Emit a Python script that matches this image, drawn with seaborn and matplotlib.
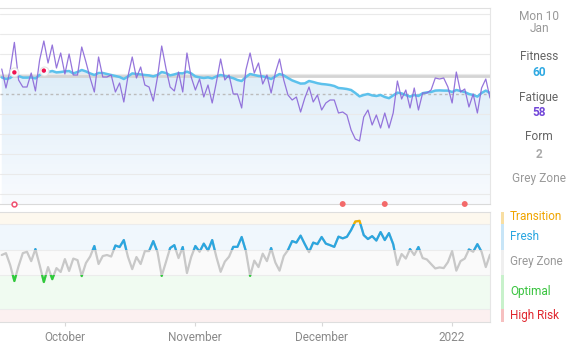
import numpy as np
import pandas as pd
import seaborn as sns
import matplotlib.pyplot as plt
import matplotlib.dates as mdates
from matplotlib.patches import Rectangle
from matplotlib.colors import LinearSegmentedColormap

# daily values from 16 Sep 2021 to 10 Jan 2022
start_day = "2021-09-16"
fitness = [68.3, 67.5, 68.0, 69.8, 69.0, 68.2, 68.2, 68.3, 67.8, 69.5,
           70.7, 71.0, 71.5, 70.8, 71.0, 71.3, 71.5, 70.3, 71.0, 72.0,
           71.3, 70.3, 69.5, 70.5, 70.5, 70.0, 69.5, 69.0, 68.5, 67.5,
           68.8, 70.3, 70.0, 69.8, 69.5, 69.3, 68.8, 69.5, 71.0, 70.5,
           69.3, 69.8, 70.4, 70.3, 71.2, 70.3, 68.8, 68.3, 68.0, 68.3,
           67.8, 68.8, 69.5, 69.0, 68.5, 67.9, 67.0, 66.5, 68.5, 70.0,
           69.5, 69.0, 68.8, 68.3, 67.5, 68.8, 70.0, 69.3, 68.0, 66.8,
           66.0, 65.2, 65.3, 66.5, 66.0, 65.4, 65.0, 64.8, 64.5, 64.0,
           63.0, 62.8, 62.5, 62.0, 60.5, 58.8, 59.5, 60.0, 59.3, 59.0,
           59.5, 58.5, 57.9, 59.3, 60.7, 60.3, 59.5, 58.7, 59.5, 59.0,
           60.4, 60.8, 61.0, 61.7, 61.8, 61.7, 61.7, 61.0, 62.0, 61.5,
           61.0, 60.0, 59.5, 58.7, 60.5, 61.7, 60.5]
fatigue = [72.5, 63.0, 72.0, 85.8, 67.0, 63.5, 63.5, 70.5, 61.5, 77.0,
           86.5, 75.5, 84.5, 73.0, 80.5, 70.0, 80.0, 69.5, 69.5, 83.5,
           76.0, 68.0, 61.0, 78.5, 68.5, 68.5, 69.5, 61.0, 65.5, 56.0,
           69.0, 78.5, 68.0, 73.5, 64.5, 63.5, 56.5, 68.5, 84.0, 73.0,
           63.5, 61.5, 71.0, 61.0, 80.5, 68.5, 62.0, 67.5, 58.5, 64.5,
           55.5, 66.0, 77.5, 67.0, 69.5, 60.0, 60.0, 53.0, 72.0, 80.5,
           70.5, 75.5, 65.0, 69.5, 60.5, 70.5, 77.5, 67.0, 59.5, 57.0,
           58.5, 51.0, 58.0, 63.5, 56.0, 59.5, 52.0, 55.5, 57.0, 57.0,
           50.5, 51.0, 49.5, 42.0, 37.5, 36.5, 48.5, 52.0, 44.5, 49.5,
           43.0, 50.5, 43.0, 50.5, 66.5, 57.5, 62.0, 53.0, 63.0, 52.0,
           60.5, 60.5, 62.0, 68.0, 67.5, 68.0, 63.5, 55.5, 71.0, 61.0,
           62.5, 53.5, 60.0, 50.5, 63.0, 67.5, 58.0]
form = [1.8, 2.9, -4.1, -13.5, -4.7, 2.9, 3.7, -1.8, 5.3, -4.1,
        -14.1, -5.3, -12.4, -5.9, -8.2, -0.6, -7.6, -0.3, -1.2, -10.6,
        -2.9, 0.9, 7.1, -3.5, 1.2, 1.8, 0.9, 7.4, 6.5, 10.6,
        0.6, -6.5, 0.6, -3.5, 4.1, 4.1, 10.0, 3.5, -10.5, -2.4,
        5.9, 7.6, 0.0, 6.5, -8.8, 0.6, 7.1, 3.7, 8.5, 4.4,
        10.6, 0.6, -8.1, -2.1, 0.8, 6.6, 6.6, 12.4, 4.1, -10.5,
        -1.5, -5.3, 2.6, -1.8, 5.9, -2.6, -7.4, 1.2, 4.7, 10.0,
        9.1, 13.2, 8.2, 3.5, 9.1, 8.2, 12.4, 8.5, 7.6, 6.6,
        12.6, 11.6, 12.5, 16.5, 21.5, 21.9, 13.5, 11.2, 12.9, 10.3,
        15.3, 10.6, 14.7, 8.2, -4.1, 2.4, -0.3, 5.3, 1.8, 6.5,
        0.0, -0.8, -3.5, -6.1, -5.5, -5.9, -2.4, 4.1, -7.4, -1.8,
        -0.3, 5.1, 3.7, 8.2, 3.7, -5.3, 2.0]

peak_days = ["2021-09-19", "2021-09-26"]
ring_days = ["2021-09-19"]
event_days = ["2021-12-06", "2021-12-16", "2022-01-04"]
month_ticks = ["2021-10-01", "2021-11-01", "2021-12-01", "2022-01-01"]
month_labels = ["October", "November", "December", "2022"]

zone_names = ["Transition", "Fresh", "Grey Zone", "Optimal", "High Risk"]
zone_bounds = [(20, 40), (5, 20), (-10, 5), (-30, -10), (-60, -30)]
zone_fill = ["#fdf8ee", "#f0f7fd", "#fafafa", "#f0fbf1", "#fcf0f0"]
zone_bar = ["#f8dea2", "#c8e5f7", "#efefef", "#c8f1cb", "#f6c0c0"]
zone_text = ["#f0a500", "#2aa6e0", "#999999", "#39c33f", "#e0262e"]
zone_line = ["#f0b000", "#2aa6e0", None, "#2ecc3a", "#e0262e"]

side_lines = [("Mon 10", "#999999", "normal", 17), ("Jan", "#999999", "normal", 29),
              ("Fitness", "#666666", "normal", 56), ("60", "#2fa9e2", "bold", 72),
              ("Fatigue", "#666666", "normal", 97), ("58", "#7246d8", "bold", 113),
              ("Form", "#666666", "normal", 137), ("2", "#aaaaaa", "bold", 154),
              ("Grey Zone", "#999999", "normal", 179)]
legend_y = [217, 237, 262, 292, 315]

sns.set_style("white")
plt.rcParams['font.family'] = ['Roboto', 'DejaVu Sans']

dates = pd.date_range(start_day, periods=len(fitness), freq="D")
df = pd.DataFrame({"date": dates, "fitness": fitness, "fatigue": fatigue, "form": form})
x0 = dates[0] - pd.Timedelta(hours=10)
x1 = dates[-1]

W, H = 583, 354
fig = plt.figure(figsize=(W / 100, H / 100), dpi=100)

# ---- fitness / fatigue panel
ax = fig.add_axes([0, 1 - 204 / H, 490 / W, 196 / H])
fill = ax.fill_between(df.date, df.fitness, 5, color="none", lw=0)
grad = np.linspace(0, 1, 200).reshape(-1, 1)
cm = LinearSegmentedColormap.from_list("fade", ["#f9fbfe", "#ddedf9"])
im = ax.imshow(grad, cmap=cm, aspect="auto", origin="lower", zorder=1,
               extent=[mdates.date2num(x0), mdates.date2num(x1), 5, 74])
im.set_clip_path(fill.get_paths()[0], transform=ax.transData)

for v in range(10, 101, 10):
    if v != 60:
        ax.axhline(v, color="#eaeaea", lw=0.8, zorder=1.5)
ax.axhline(69, color="#d4d4d4", lw=2, zorder=1.6)
ax.axhline(60, color="#bcbcbc", lw=1, ls=(0, (2, 2)), zorder=1.6)

sns.lineplot(data=df, x="date", y="fitness", ax=ax, color="#5cc1ec", lw=1.8, zorder=3)
sns.lineplot(data=df, x="date", y="fatigue", ax=ax, color="#8a66d8", lw=0.9, alpha=0.9, zorder=4)

peaks = df[df.date.isin(pd.to_datetime(peak_days))]
ax.scatter(peaks.date, peaks.fitness + 1, s=42, facecolor="white", edgecolor="#e2e2e2",
           lw=0.8, alpha=0.9, zorder=5)
sns.scatterplot(x=peaks.date, y=peaks.fitness + 1, ax=ax, color="#f0124f", s=10,
                edgecolor="none", zorder=6)

tr = ax.get_xaxis_transform()
ev = pd.to_datetime(event_days)
ax.scatter(ev, np.zeros(len(ev)), transform=tr, s=18, color="#f36a6a", edgecolor="none",
           clip_on=False, zorder=6)
rg = pd.to_datetime(ring_days)
ax.scatter(rg, np.zeros(len(rg)), transform=tr, s=12, facecolor="white", edgecolor="#f05070",
           lw=1.1, clip_on=False, zorder=6)

ax.set_xlim(x0, x1)
ax.set_ylim(5, 103)
ax.set_xticks([])
ax.set_yticks([])
ax.set_xlabel("")
ax.set_ylabel("")
ax.spines["left"].set_visible(False)
ax.spines["top"].set_color("#e0e0e0")
ax.spines["bottom"].set_color("#dadada")
ax.spines["right"].set_color("#e6e6e6")

# ---- form panel
ax2 = fig.add_axes([0, 1 - 322 / H, 490 / W, 110 / H])
for (lo, hi), c in zip(zone_bounds, zone_fill):
    ax2.axhspan(lo, hi, color=c, lw=0, zorder=0)
for b in [20, 5, -10, -30]:
    ax2.axhline(b, color="#ececec", lw=0.8, zorder=0.5)

sns.lineplot(data=df, x="date", y="form", ax=ax2, color="#c8c8c8", lw=1.6, zorder=3)
for (lo, hi), c in zip(zone_bounds, zone_line):
    if c is None:
        continue
    sns.lineplot(data=df, x="date", y="form", ax=ax2, color=c, lw=1.6, zorder=4)
    ax2.lines[-1].set_clip_path(Rectangle((-1e6, lo), 2e6, hi - lo, transform=ax2.transData))

ax2.set_xlim(x0, x1)
ax2.set_ylim(-37.6, 27.1)
ax2.set_yticks([])
ax2.set_xticks(pd.to_datetime(month_ticks))
ax2.set_xticklabels(month_labels)
ax2.tick_params(axis="x", bottom=True, length=3, color="#d8d8d8", labelcolor="#8a8a8a",
                labelsize=8.5, pad=3.5)
ax2.set_xlabel("")
ax2.set_ylabel("")
ax2.spines["left"].set_visible(False)
for s in ["top", "bottom"]:
    ax2.spines[s].set_color("#dedede")
ax2.spines["right"].set_color("#e6e6e6")

# ---- zone legend
ax3 = fig.add_axes([501 / W, 1 - 322 / H, 2.5 / W, 110 / H])
for (lo, hi), c in zip(zone_bounds, zone_bar):
    ax3.axhspan(lo, hi, color=c, lw=0)
ax3.set_ylim(-37.6, 27.1)
ax3.axis("off")
for name, c, y in zip(zone_names, zone_text, legend_y):
    fig.text(510 / W, 1 - y / H, name, color=c, fontsize=8.5, ha="left", va="center")

# ---- hover summary
for txt, c, w, y in side_lines:
    fig.text(539 / W, 1 - y / H, txt, color=c, fontsize=8.6, fontweight=w,
             ha="center", va="center")

fig.savefig("out.png", dpi=100)
